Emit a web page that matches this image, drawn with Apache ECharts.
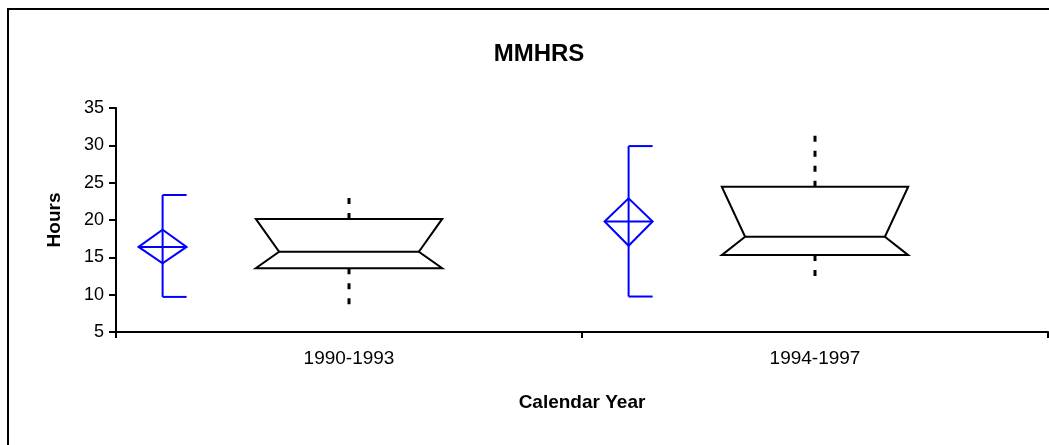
<!DOCTYPE html>
<html>
<head>
<meta charset="utf-8">
<title>MMHRS</title>
<script src="https://cdn.jsdelivr.net/npm/echarts@6/dist/echarts.min.js"></script>
<style>
  html, body { margin: 0; padding: 0; background: #fff; }
  #chart { width: 1049px; height: 445px; }
</style>
</head>
<body>
<div id="chart"></div>
<script>
// data
const categories = ['1990-1993', '1994-1997']
// notched box: whisker low, Q1, median, Q3, whisker high
const whiskerLow = [7.8, 12.2]
const boxQ1 = [13.55, 15.3]
const boxMedian = [15.75, 17.75]
const boxQ3 = [20.15, 24.45]
const whiskerHigh = [23.0, 31.3]
// blue mean diamond: sd low, diamond low, mean, diamond high, sd high
const sdLow = [9.7, 9.75]
const meanLow = [14.2, 16.55]
const meanVals = [16.4, 19.8]
const meanHigh = [18.7, 22.9]
const sdHigh = [23.35, 29.9]

const yTicks = { min: 5, max: 35, interval: 5 }

const boxData = categories.map((c, i) => [i, whiskerLow[i], boxQ1[i], boxMedian[i], boxQ3[i], whiskerHigh[i]])
const meanData = categories.map((c, i) => [i, sdLow[i], meanLow[i], meanVals[i], meanHigh[i], sdHigh[i]])

const black = { stroke: '#000', lineWidth: 2, fill: 'none' }
const blue = { stroke: '#0000ff', lineWidth: 2, fill: 'none' }

function line (x1, y1, x2, y2, style) {
  return { type: 'line', shape: { x1, y1, x2, y2 }, style }
}

function renderBox (params, api) {
  const i = api.value(0)
  const band = api.size([1, 0])[0]
  const cx = api.coord([i, 0])[0]
  const half = band * 0.2
  const notch = band * 0.05
  const yLow = api.coord([i, api.value(1)])[1]
  const yQ1 = api.coord([i, api.value(2)])[1]
  const yMed = api.coord([i, api.value(3)])[1]
  const yQ3 = api.coord([i, api.value(4)])[1]
  const yHigh = api.coord([i, api.value(5)])[1]
  const L = cx - half
  const R = cx + half
  const dash = { stroke: '#000', lineWidth: 3, lineDash: [6, 9] }
  return {
    type: 'group',
    children: [
      line(cx, yQ3, cx, yHigh, dash),
      line(cx, yQ1, cx, yLow, dash),
      {
        type: 'polygon',
        shape: { points: [[L, yQ3], [L + notch, yMed], [L, yQ1], [R, yQ1], [R - notch, yMed], [R, yQ3]] },
        style: black
      },
      line(L + notch, yMed, R - notch, yMed, black)
    ]
  }
}

function renderMean (params, api) {
  const i = api.value(0)
  const band = api.size([1, 0])[0]
  const x = api.coord([i, 0])[0] - band * 0.4
  const hw = band * 0.0515
  const ySdLow = api.coord([i, api.value(1)])[1]
  const yLow = api.coord([i, api.value(2)])[1]
  const yMean = api.coord([i, api.value(3)])[1]
  const yHigh = api.coord([i, api.value(4)])[1]
  const ySdHigh = api.coord([i, api.value(5)])[1]
  return {
    type: 'group',
    children: [
      line(x, ySdLow, x, ySdHigh, blue),
      line(x, ySdHigh, x + hw, ySdHigh, blue),
      line(x, ySdLow, x + hw, ySdLow, blue),
      {
        type: 'polygon',
        shape: { points: [[x - hw, yMean], [x, yHigh], [x + hw, yMean], [x, yLow]] },
        style: blue
      },
      line(x - hw, yMean, x + hw, yMean, blue)
    ]
  }
}

const font = 'Liberation Sans'

const option = {
  animation: false,
  backgroundColor: '#fff',
  textStyle: { fontFamily: font },
  title: {
    text: 'MMHRS',
    left: 534,
    textAlign: 'center',
    top: 37,
    textStyle: { fontFamily: font, fontSize: 24, fontWeight: 'bold', color: '#000' }
  },
  graphic: [
    {
      type: 'rect',
      shape: { x: 8, y: 9, width: 1200, height: 600 },
      style: { stroke: '#000', lineWidth: 2, fill: 'none' },
      silent: true
    }
  ],
  grid: { left: 116, right: 1, top: 108, bottom: 113 },
  xAxis: {
    type: 'category',
    data: categories,
    boundaryGap: true,
    name: 'Calendar Year',
    nameLocation: 'middle',
    nameGap: 61,
    nameTextStyle: { fontFamily: font, fontSize: 19, fontWeight: 'bold', color: '#000' },
    axisLine: { lineStyle: { color: '#000', width: 2 } },
    axisTick: { show: true, length: 6, alignWithLabel: false, lineStyle: { color: '#000', width: 2 } },
    axisLabel: { margin: 17, fontFamily: font, fontSize: 19, color: '#000' },
    splitLine: { show: false }
  },
  yAxis: {
    type: 'value',
    min: yTicks.min,
    max: yTicks.max,
    interval: yTicks.interval,
    name: 'Hours',
    nameLocation: 'middle',
    nameGap: 52,
    nameTextStyle: { fontFamily: font, fontSize: 19, fontWeight: 'bold', color: '#000' },
    axisLine: { show: true, lineStyle: { color: '#000', width: 2 } },
    axisTick: { show: true, length: 7, lineStyle: { color: '#000', width: 2 } },
    axisLabel: { margin: 12, fontFamily: font, fontSize: 18, color: '#000' },
    splitLine: { show: false }
  },
  series: [
    {
      type: 'custom',
      name: 'box',
      renderItem: renderBox,
      encode: { x: 0, y: [1, 2, 3, 4, 5] },
      data: boxData,
      clip: false
    },
    {
      type: 'custom',
      name: 'mean',
      renderItem: renderMean,
      encode: { x: 0, y: [1, 2, 3, 4, 5] },
      data: meanData,
      clip: false
    }
  ]
}

const chart = echarts.init(document.getElementById('chart'))
chart.setOption(option)
</script>
</body>
</html>
